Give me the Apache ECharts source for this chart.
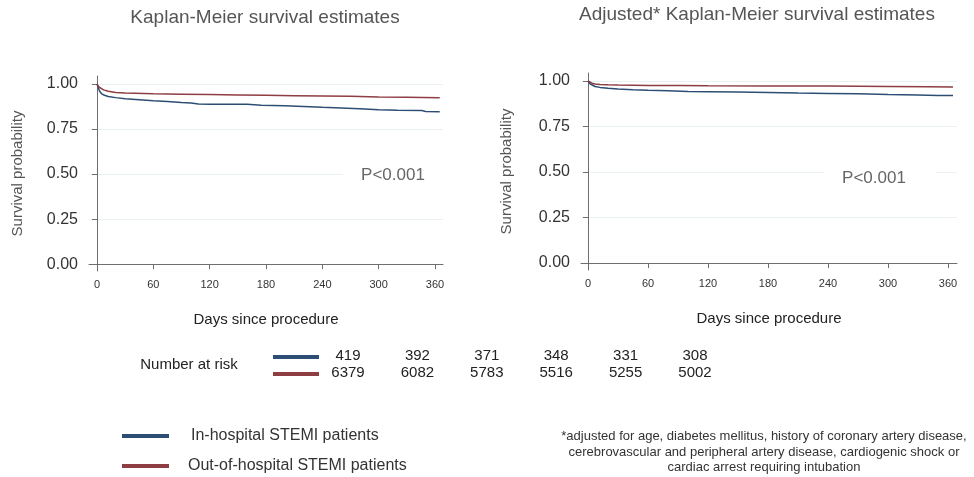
<!DOCTYPE html>
<html><head><meta charset="utf-8">
<script src="https://cdn.jsdelivr.net/npm/echarts@6/dist/echarts.min.js"></script>
<style>html,body{margin:0;padding:0;background:#fff}#c{width:974px;height:477px}</style>
</head><body><div id="c"></div>
<script>
// ---- data ----
const seriesNames = ['In-hospital STEMI patients', 'Out-of-hospital STEMI patients'];
const xTicks = [0, 60, 120, 180, 240, 300, 360];
const yTicks = [0, 0.25, 0.5, 0.75, 1];
const kmInHospital = [[0,1.0],[1,0.985],[2,0.97],[3,0.958],[5,0.945],[8,0.937],[12,0.93],[20,0.924],[30,0.918],[45,0.912],[60,0.906],[75,0.902],[90,0.897],[100,0.894],[108,0.888],[120,0.887],[160,0.887],[175,0.882],[200,0.879],[220,0.875],[240,0.87],[260,0.866],[280,0.862],[300,0.857],[320,0.854],[346,0.852],[350,0.847],[365,0.846]];
const kmOutHospital = [[0,1.0],[1,0.99],[2,0.983],[4,0.975],[7,0.967],[12,0.959],[20,0.953],[30,0.949],[60,0.945],[90,0.943],[120,0.941],[150,0.939],[180,0.937],[210,0.935],[240,0.933],[270,0.931],[300,0.928],[330,0.926],[365,0.923]];
const adjInHospital = [[0,1.0],[2,0.985],[4,0.977],[7,0.97],[12,0.965],[20,0.96],[30,0.956],[45,0.952],[60,0.949],[80,0.946],[100,0.942],[120,0.941],[150,0.94],[180,0.937],[210,0.934],[240,0.932],[270,0.93],[300,0.926],[330,0.923],[350,0.921],[365,0.92]];
const adjOutHospital = [[0,1.0],[2,0.992],[4,0.988],[7,0.984],[12,0.981],[20,0.979],[30,0.978],[60,0.976],[90,0.975],[120,0.974],[180,0.973],[240,0.972],[300,0.97],[340,0.968],[365,0.967]];
const riskInHospital = [419, 392, 371, 348, 331, 308];
const riskOutHospital = [6379, 6082, 5783, 5516, 5255, 5002];
const titles = ['Kaplan-Meier survival estimates', 'Adjusted* Kaplan-Meier survival estimates'];
const footnote = '*adjusted for age, diabetes mellitus, history of coronary artery disease,\ncerebrovascular and peripheral artery disease, cardiogenic shock or\ncardiac arrest requiring intubation';

// ---- styles ----
const FONT = 'Liberation Sans, Arial, sans-serif';
const BLUE = '#2c4e74';
const RED = '#8e3d42';
const AX = '#6e6e6e';

const chart = echarts.init(document.getElementById('c'), null, {renderer: 'canvas'});

function xAxisCfg(gi, min, max) {
  return {
    type: 'value', gridIndex: gi, min: min, max: max,
    name: 'Days since procedure', nameLocation: 'middle', nameGap: 41,
    nameTextStyle: {fontFamily: FONT, fontSize: 15, color: '#222'},
    axisLine: {show: true, lineStyle: {color: AX, width: 1}},
    axisTick: {show: true, length: 5, lineStyle: {color: AX}, customValues: xTicks},
    axisLabel: {fontFamily: FONT, fontSize: 11, color: '#333', margin: 8, customValues: xTicks},
    splitLine: {show: false}
  };
}
function yAxisCfg(gi, gap) {
  return {
    type: 'value', gridIndex: gi, min: -0.038, max: 1.044,
    name: 'Survival probability', nameLocation: 'middle', nameGap: gap, nameRotate: 90,
    nameTextStyle: {fontFamily: FONT, fontSize: 15, color: '#555'},
    axisLine: {show: true, lineStyle: {color: AX, width: 1}},
    axisTick: {show: true, length: 5, lineStyle: {color: AX}, customValues: yTicks},
    axisLabel: {fontFamily: FONT, fontSize: 16, color: '#333', margin: 11, customValues: yTicks,
      formatter: v => v.toFixed(2)},
    splitLine: {show: true, lineStyle: {color: '#e9f1f1', width: 1}}
  };
}
function line(name, data, color, gi) {
  return {
    type: 'line', name: name, data: data, xAxisIndex: gi, yAxisIndex: gi,
    showSymbol: false, symbol: 'none', smooth: false, silent: true,
    lineStyle: {color: color, width: 1.5}, itemStyle: {color: color}, z: 3
  };
}

const graphics = [];
// titles
graphics.push({type: 'text', x: 265, y: 18, style: {text: titles[0], fill: '#555', font: '19px ' + FONT, textAlign: 'center', textVerticalAlign: 'middle'}});
graphics.push({type: 'text', x: 757, y: 15, style: {text: titles[1], fill: '#555', font: '19px ' + FONT, textAlign: 'center', textVerticalAlign: 'middle'}});
// p-values
graphics.push({type: 'text', x: 393, y: 175, z: 10, style: {text: 'P<0.001', fill: '#666', font: '17px ' + FONT, textAlign: 'center', textVerticalAlign: 'middle', backgroundColor: '#fff', padding: [3, 18, 3, 18]}});
graphics.push({type: 'text', x: 880, y: 178, z: 10, style: {text: 'P<0.001', fill: '#666', font: '17px ' + FONT, textAlign: 'center', textVerticalAlign: 'middle', backgroundColor: '#fff', padding: [3, 30, 3, 18]}});
// number at risk
graphics.push({type: 'text', x: 189, y: 365, style: {text: 'Number at risk', fill: '#222', font: '15px ' + FONT, textAlign: 'center', textVerticalAlign: 'middle'}});
graphics.push({type: 'rect', shape: {x: 273, y: 355, width: 46, height: 4}, style: {fill: BLUE}});
graphics.push({type: 'rect', shape: {x: 273, y: 372, width: 46, height: 4}, style: {fill: RED}});
riskInHospital.forEach((v, i) => {
  graphics.push({type: 'text', x: 348 + i * 69.4, y: 356, style: {text: String(v), fill: '#222', font: '15px ' + FONT, textAlign: 'center', textVerticalAlign: 'middle'}});
});
riskOutHospital.forEach((v, i) => {
  graphics.push({type: 'text', x: 348 + i * 69.4, y: 373, style: {text: String(v), fill: '#222', font: '15px ' + FONT, textAlign: 'center', textVerticalAlign: 'middle'}});
});
// legend
[BLUE, RED].forEach((c, i) => {
  graphics.push({type: 'rect', shape: {x: 122, y: 434 + i * 30, width: 47, height: 4}, style: {fill: c}});
  graphics.push({type: 'text', x: i === 0 ? 191 : 188, y: 436 + i * 30, style: {text: seriesNames[i], fill: '#333', font: '16px ' + FONT, textAlign: 'left', textVerticalAlign: 'middle'}});
});
// footnote
graphics.push({type: 'text', x: 764, y: 452, style: {text: footnote, fill: '#333', font: '13px ' + FONT, textAlign: 'center', textVerticalAlign: 'middle', lineHeight: 15.5}});

chart.setOption({
  animation: false,
  backgroundColor: '#fff',
  grid: [
    {left: 89, top: 76, width: 354, height: 195},
    {left: 581, top: 73, width: 376, height: 197}
  ],
  xAxis: [xAxisCfg(0, -8.5, 368.5), xAxisCfg(1, -7, 369)],
  yAxis: [yAxisCfg(0, 64), yAxisCfg(1, 67)],
  series: [
    line(seriesNames[0], kmInHospital, BLUE, 0),
    line(seriesNames[1], kmOutHospital, RED, 0),
    line(seriesNames[0], adjInHospital, BLUE, 1),
    line(seriesNames[1], adjOutHospital, RED, 1)
  ],
  graphic: graphics
});
</script></body></html>
